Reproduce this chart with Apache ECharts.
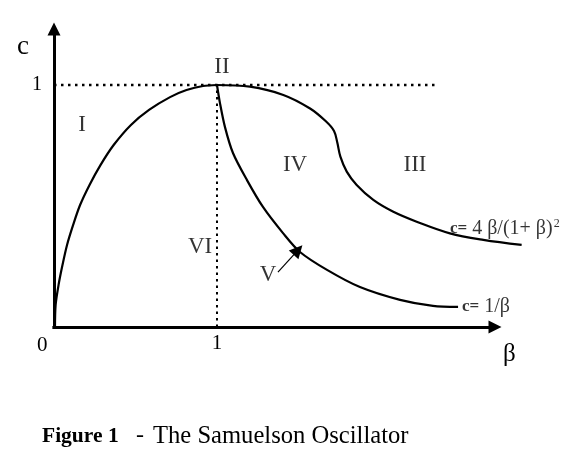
<!DOCTYPE html>
<html>
<head>
<meta charset="utf-8">
<script src="https://cdn.jsdelivr.net/npm/echarts@6/dist/echarts.min.js"></script>
<style>html,body{margin:0;padding:0;background:#fff}#c{width:583px;height:458px}</style>
</head>
<body>
<div id="c"></div>
<script>
// Left branch of c = 4β/(1+β)^2 (β from 0 to 1)
const leftCurve = [[0.006,0],[0.010,0.091],[0.028,0.174],[0.052,0.256],[0.080,0.339],[0.117,0.421],[0.160,0.504],[0.218,0.587],[0.285,0.669],[0.366,0.752],[0.472,0.835],[0.583,0.897],[0.712,0.950],[0.813,0.979],[0.914,0.996],[1,1]];
// Right branch of c = 4β/(1+β)^2
const rightCurve = [[1,1],[1.202,0.993],[1.407,0.959],[1.571,0.903],[1.668,0.850],[1.718,0.810],[1.738,0.762],[1.757,0.704],[1.796,0.642],[1.857,0.587],[1.959,0.525],[2.082,0.476],[2.225,0.435],[2.429,0.387],[2.634,0.360],[2.869,0.339]];
// c = 1/β
const invCurve = [[1,1],[1.018,0.926],[1.049,0.826],[1.098,0.719],[1.184,0.607],[1.282,0.496],[1.405,0.388],[1.509,0.310],[1.675,0.236],[1.877,0.165],[2.123,0.112],[2.325,0.087],[2.479,0.083]];
// axes drawn as arrows
const xAxisArrow = [[-0.01,0],[2.7055,0]];
const yAxisArrow = [[0,-0.006],[0,1.2314]];
// dotted guide lines
const hGuide = [[0,1],[2.356,1]];
const vGuide = [[1,0],[1,1]];
// region labels
const regionNames = ['I','II','IV','III','VI','V'];
const regionPos = [[0.172,0.835],[1.03,1.074],[1.479,0.669],[2.215,0.669],[0.896,0.331],[1.313,0.215]];
// pointer arrow for region V
const arrowV = [[1.374,0.227],[1.497,0.318]];
// curve labels
const curveLabels = ['{c|c=} 4 \u03b2/(1+ \u03b2){s|2}','{c|c=} 1/\u03b2'];
const curveLabelPos = [[2.429,0.405],[2.503,0.083]];
const xTicks = [1];
const yTicks = [1];

const FONT = 'Liberation Serif';
const chart = echarts.init(document.getElementById('c'));
const lineCommon = {type:'line', showSymbol:false, symbol:'none', silent:true, clip:false, animation:false};
chart.setOption({
  backgroundColor:'#fff',
  animation:false,
  grid:{left:54, top:29, width:481, height:298},
  xAxis:{type:'value', min:0, max:2.951,
    axisLine:{show:false}, axisTick:{show:false}, splitLine:{show:false},
    axisLabel:{customValues:xTicks, color:'#000', fontFamily:FONT, fontSize:21, margin:6}},
  yAxis:{type:'value', min:0, max:1.2314,
    axisLine:{show:false}, axisTick:{show:false}, splitLine:{show:false},
    axisLabel:{customValues:yTicks, color:'#000', fontFamily:FONT, fontSize:20, margin:12}},
  series:[
    Object.assign({}, lineCommon, {data:hGuide, lineStyle:{color:'#000', width:2.5, type:[2.5,4.5]}}),
    Object.assign({}, lineCommon, {data:vGuide, lineStyle:{color:'#000', width:2, type:[2.5,4]}}),
    Object.assign({}, lineCommon, {data:leftCurve, smooth:0.3, lineStyle:{color:'#000', width:2.2}}),
    Object.assign({}, lineCommon, {data:rightCurve, smooth:0.35, lineStyle:{color:'#000', width:2.2}}),
    Object.assign({}, lineCommon, {data:invCurve, smooth:0.3, lineStyle:{color:'#000', width:2.2}}),
    {type:'lines', coordinateSystem:'cartesian2d', silent:true, animation:false, clip:false,
     symbol:['none','triangle'], symbolSize:[14,13],
     lineStyle:{color:'#000', width:3, opacity:1},
     data:[{coords:xAxisArrow},{coords:yAxisArrow}]},
    {type:'lines', coordinateSystem:'cartesian2d', silent:true, animation:false, clip:false,
     symbol:['none','triangle'], symbolSize:[9,13],
     lineStyle:{color:'#000', width:1.2, opacity:1},
     data:[{coords:arrowV}]},
    {type:'scatter', silent:true, clip:false, symbolSize:0, animation:false,
     data:regionPos.map((p,i)=>({value:p, name:regionNames[i]})),
     label:{show:true, position:'inside', formatter:'{b}', color:'#000', fontFamily:FONT, fontSize:23}},
    {type:'scatter', silent:true, clip:false, symbolSize:0, animation:false,
     data:curveLabelPos.map((p,i)=>({value:p, name:curveLabels[i]})),
     label:{show:true, position:'right', distance:0, formatter:'{b}', color:'#000', fontFamily:FONT, fontSize:20,
       rich:{c:{fontFamily:FONT, fontSize:17, fontWeight:'bold', color:'#000'},
             s:{fontFamily:FONT, fontSize:12, color:'#000', verticalAlign:'top', padding:[0,0,10,1]}}}}
  ],
  graphic:[
    {type:'text', left:17, top:33, style:{text:'c', font:'27px "Liberation Serif"', fill:'#000'}},
    {type:'text', left:503, top:342, style:{text:'\u03b2', font:'25px "Liberation Serif"', fill:'#000'}},
    {type:'text', left:37, top:335, style:{text:'0', font:'21px "Liberation Serif"', fill:'#000'}},
    {type:'text', left:42, top:425, style:{text:'Figure 1', font:'bold 21.5px "Liberation Serif"', fill:'#000'}},
    {type:'text', left:136, top:424, style:{text:'-', font:'24px "Liberation Serif"', fill:'#000'}},
    {type:'text', left:153, top:424, style:{text:'The Samuelson Oscillator', font:'24.6px "Liberation Serif"', fill:'#000'}}
  ]
});
</script>
</body>
</html>
